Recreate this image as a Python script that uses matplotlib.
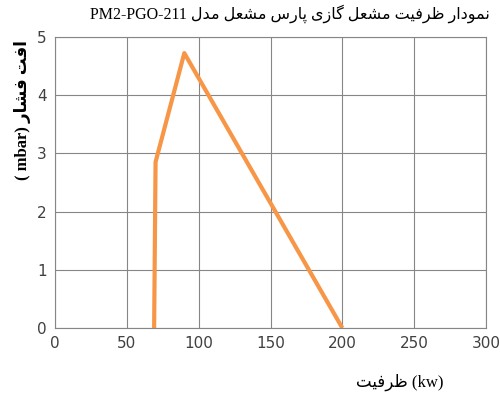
import matplotlib
matplotlib.use("Agg")
import matplotlib.pyplot as plt

capacity = [69, 70, 90, 200]
pressure = [0, 2.85, 4.72, 0]
xticks = [0, 50, 100, 150, 200, 250, 300]
yticks = [0, 1, 2, 3, 4, 5]

FORMS = {
    'ا': ('\uFE8D', '\uFE8E', None, None), 'د': ('\uFEA9', '\uFEAA', None, None),
    'ر': ('\uFEAD', '\uFEAE', None, None), 'ز': ('\uFEAF', '\uFEB0', None, None),
    'و': ('\uFEED', '\uFEEE', None, None),
    'ن': ('\uFEE5', '\uFEE6', '\uFEE7', '\uFEE8'), 'م': ('\uFEE1', '\uFEE2', '\uFEE3', '\uFEE4'),
    'ظ': ('\uFEC5', '\uFEC6', '\uFEC7', '\uFEC8'), 'ف': ('\uFED1', '\uFED2', '\uFED3', '\uFED4'),
    'ت': ('\uFE95', '\uFE96', '\uFE97', '\uFE98'), 'ش': ('\uFEB5', '\uFEB6', '\uFEB7', '\uFEB8'),
    'ع': ('\uFEC9', '\uFECA', '\uFECB', '\uFECC'), 'ل': ('\uFEDD', '\uFEDE', '\uFEDF', '\uFEE0'),
    'س': ('\uFEB1', '\uFEB2', '\uFEB3', '\uFEB4'), 'پ': ('\uFB56', '\uFB57', '\uFB58', '\uFB59'),
    'گ': ('\uFB92', '\uFB93', '\uFB94', '\uFB95'), 'ی': ('\uFBFC', '\uFBFD', '\uFBFE', '\uFBFF'),
}

def dual(c):
    return c in FORMS and FORMS[c][2] is not None

def shape_word(w):
    out = []
    for i, c in enumerate(w):
        if c not in FORMS:
            out.append(c); continue
        jp = i > 0 and dual(w[i - 1])
        jn = i < len(w) - 1 and dual(c) and w[i + 1] in FORMS
        iso, fin, ini, med = FORMS[c]
        if jp and jn: g = med
        elif jp: g = fin
        elif jn: g = ini
        else: g = iso
        out.append(g)
    return ''.join(reversed(out))

def rtl(text):
    return ' '.join(shape_word(w) for w in reversed(text.split()))

title = rtl('نمودار ظرفیت مشعل گازی پارس مشعل مدل')
title = 'PM2-PGO-211 ' + title
ylabel = '( mbar) ' + rtl('افت فشار')
xlabel = rtl('ظرفیت') + ' (kw)'

fam = ['Liberation Serif', 'DejaVu Sans']
fig = plt.figure(figsize=(5, 4), dpi=100)
ax = fig.add_axes([0.11, 0.18, 0.862, 0.728])
ax.plot(capacity, pressure, color='#F79646', lw=3, solid_capstyle='butt')
ax.set_xlim(0, 300); ax.set_ylim(0, 5)
ax.set_xticks(xticks); ax.set_yticks(yticks)
ax.grid(True, color='#868686', lw=0.8)
ax.set_axisbelow(True)
for s in ax.spines.values():
    s.set_color('#868686')
ax.tick_params(length=0, labelsize=11, colors='#404040', pad=6)
fig.text(0.98, 0.965, title, ha='right', va='center', fontsize=11.5, family=fam)
fig.text(0.8, 0.045, xlabel, ha='center', va='center', fontsize=12, family=fam)
fig.text(0.045, 0.725, ylabel, ha='center', va='center', rotation=90, fontsize=12,
         fontweight='bold', family=fam)
fig.savefig('out.png', dpi=100)
